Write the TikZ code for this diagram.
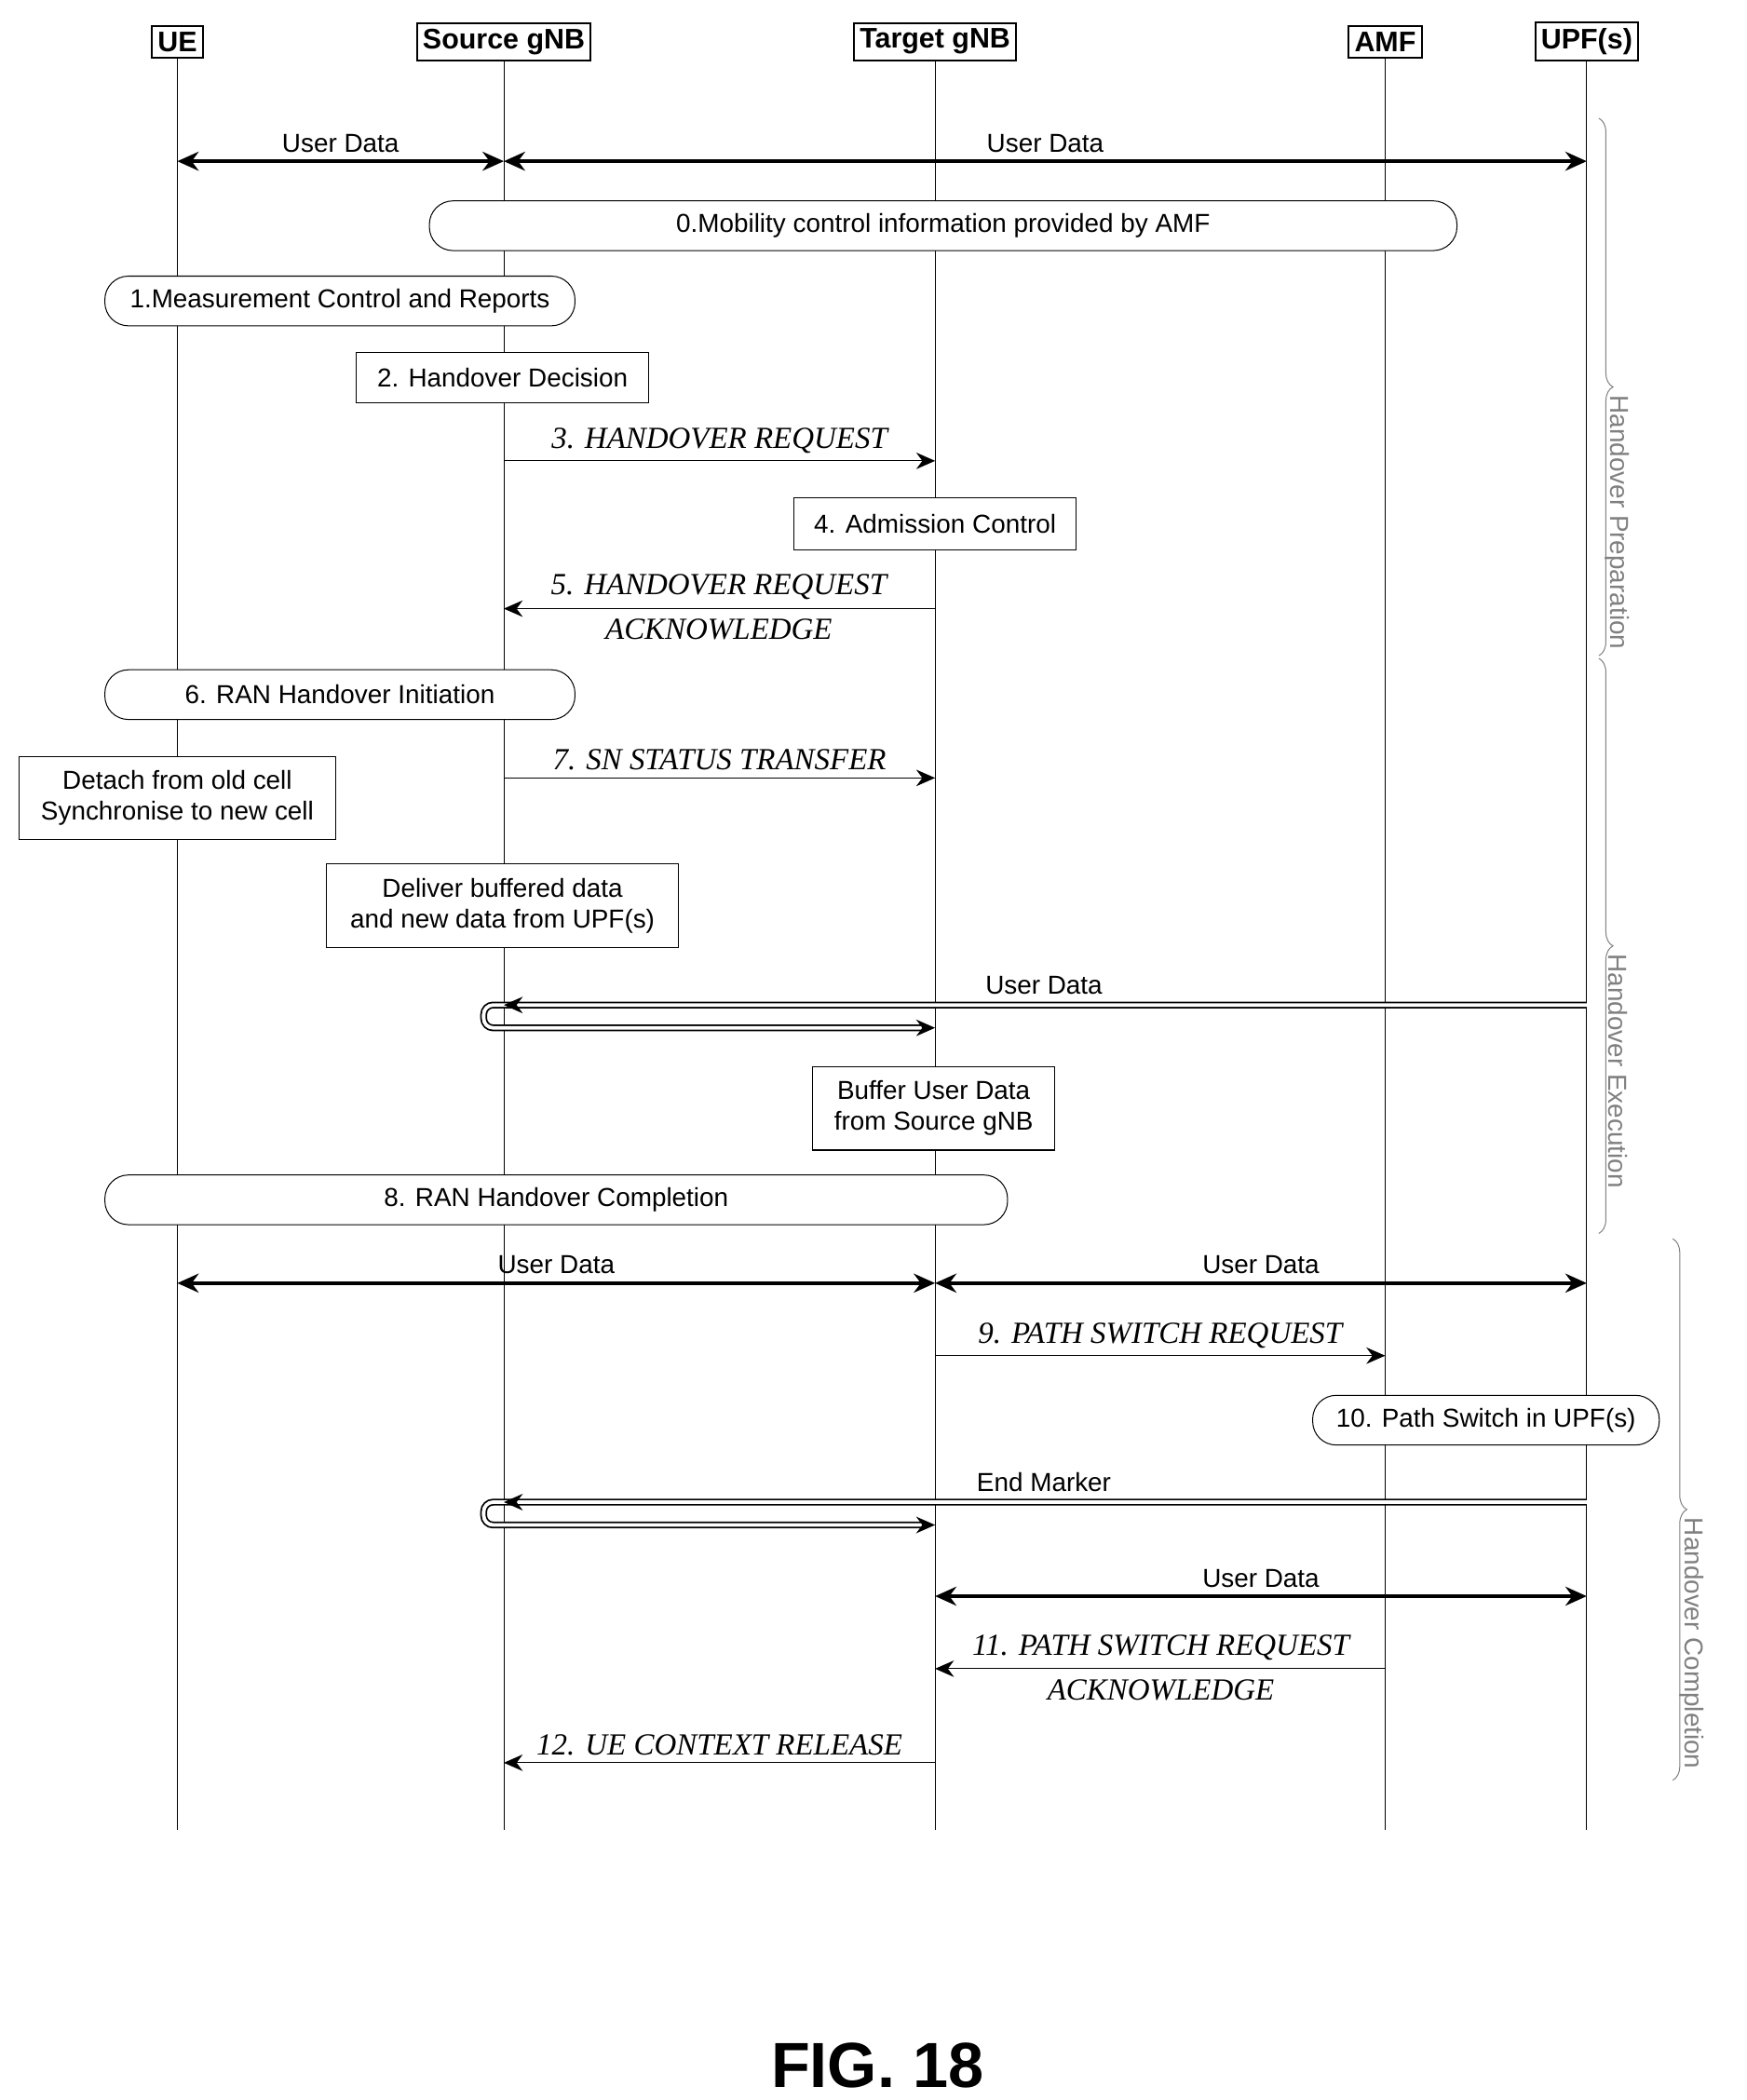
\documentclass[tikz,border=0pt]{standalone}
\usepackage{fontspec}
\setmainfont{Liberation Sans}
\newfontfamily\msgfont{Liberation Serif}
\usetikzlibrary{positioning, shapes, calc, arrows.meta, decorations.pathreplacing}

\begin{document}
\begin{tikzpicture}
        [
            x=0.02cm, y=-0.02cm,
            head/.style={draw, thick, inner sep=2.5pt, font=\fontsize{12}{14}\selectfont\bfseries},
            stage/.style={draw, rounded corners=10pt, minimum height=0.74cm,
                         inner sep=0pt, font=\fontsize{11}{13}\selectfont},
            act/.style={draw, inner sep=4pt, align=center, font=\fontsize{11}{13}\selectfont},
            msg/.style={-{Stealth[length=8pt,width=7pt]}},
            data/.style={{Stealth[length=9pt,width=8pt]}-{Stealth[length=9pt,width=8pt]}, line width=1.6pt},
            fwd/.style={double, double distance=1.5pt, line width=0.7pt, rounded corners=4pt},
            lbl/.style={font=\fontsize{11}{13}\selectfont, inner sep=1pt},
            ital/.style={font=\fontsize{13}{15}\selectfont\msgfont\itshape, align=center, inner sep=1pt},
            phase/.style={decorate, decoration={brace, amplitude=6pt}, draw=gray},
            phlbl/.style={text=gray, rotate=-90, font=\fontsize{11}{13}\selectfont}
        ]
        \useasboundingbox (0,0) rectangle (1300,1563);
        % lifelines
        \foreach \n/\x/\t in {ue/132/UE, src/375/Source gNB, tgt/696/Target gNB,
                              amf/1031/AMF, upf/1181/UPF(s)}
        {
            \node (\n) [head] at (\x,31) {\t};
            \draw (\n.south) -- (\x,1362);
        }
        % phase 1
        \draw [data] (ue |- 0,120) -- node[lbl, above=2pt] {User Data} (src |- 0,120);
        \draw [data] (src |- 0,120) -- node[lbl, above=2pt] {User Data} (upf |- 0,120);
        \node (s0) [stage, minimum width=15.3cm, fill=white] at (702,168)
              {0.Mobility control information provided by AMF};
        \node (s1) [stage, minimum width=7cm, fill=white] at (253,224)
              {1.Measurement Control and Reports};
        \node (s2) [act, minimum width=4.36cm, minimum height=0.76cm, fill=white]
              at (374,281) {2. Handover Decision};
        \draw [msg] (src |- 0,343) -- node[ital, above=2pt] {3. HANDOVER REQUEST} (tgt |- 0,343);
        \node (s4) [act, minimum width=4.2cm, minimum height=0.78cm, fill=white]
              at (696,390) {4. Admission Control};
        \draw [msg] (tgt |- 0,453) -- (src |- 0,453);
        \node (m5) [ital] at (535,452) {5. HANDOVER REQUEST\\[4pt] ACKNOWLEDGE};
        % phase 2
        \node (s6) [stage, minimum width=7cm, fill=white] at (253,517)
              {6. RAN Handover Initiation};
        \draw [msg] (src |- 0,579) -- node[ital, above=2pt] {7. SN STATUS TRANSFER} (tgt |- 0,579);
        \node (det) [act, minimum width=4.72cm, minimum height=1.24cm, fill=white]
              at (132,594) {Detach from old cell\\Synchronise to new cell};
        \node (dlv) [act, minimum width=5.24cm, minimum height=1.24cm, fill=white]
              at (374,674) {Deliver buffered data\\and new data from UPF(s)};
        \coordinate (f1) at (upf |- 0,748);
        \draw [fwd] (f1) -- (360,748) -- (360,765) -- (690,765);
        \draw [msg, line width=0.8pt] (686,765) -- (tgt |- 0,765);
        \draw [msg, line width=0.8pt] (381,748) -- (src |- 0,748);
        \node [lbl] at (777,733) {User Data};
        \node (buf) [act, minimum width=3.6cm, minimum height=1.24cm, fill=white]
              at (695,825) {Buffer User Data\\from Source gNB};
        \node (s8) [stage, minimum width=13.44cm, fill=white] at (414,893)
              {8. RAN Handover Completion};
        % phase 3
        \draw [data] (ue |- 0,955) -- node[lbl, above=2pt] {User Data} (tgt |- 0,955);
        \draw [data] (tgt |- 0,955) -- node[lbl, above=2pt] {User Data} (upf |- 0,955);
        \draw [msg] (tgt |- 0,1009) -- node[ital, above=2pt] {9. PATH SWITCH REQUEST} (amf |- 0,1009);
        \node (s10) [stage, minimum width=5.16cm, fill=white] at (1106,1057)
              {10. Path Switch in UPF(s)};
        \coordinate (f2) at (upf |- 0,1118);
        \draw [fwd] (f2) -- (360,1118) -- (360,1135) -- (690,1135);
        \draw [msg, line width=0.8pt] (686,1135) -- (tgt |- 0,1135);
        \draw [msg, line width=0.8pt] (381,1118) -- (src |- 0,1118);
        \node [lbl] at (777,1103) {End Marker};
        \draw [data] (tgt |- 0,1188) -- node[lbl, above=2pt] {User Data} (upf |- 0,1188);
        \draw [msg] (amf |- 0,1242) -- (tgt |- 0,1242);
        \node (m11) [ital] at (864,1241) {11. PATH SWITCH REQUEST\\[4pt] ACKNOWLEDGE};
        \draw [msg] (tgt |- 0,1312) -- node[ital, above=2pt] {12. UE CONTEXT RELEASE} (src |- 0,1312);
        % phases
        \draw [phase] (1190,88) -- node[phlbl, right=8pt] {Handover Preparation} (1190,488);
        \draw [phase] (1190,490) -- node[phlbl, right=8pt] {Handover Execution} (1190,918);
        \draw [phase] (1245,922) -- node[phlbl, right=8pt] {Handover Completion} (1245,1325);
        \node (fig) at (653,1537) {\fontsize{27}{30}\selectfont\bfseries FIG. 18};
    \end{tikzpicture}
\end{document}
